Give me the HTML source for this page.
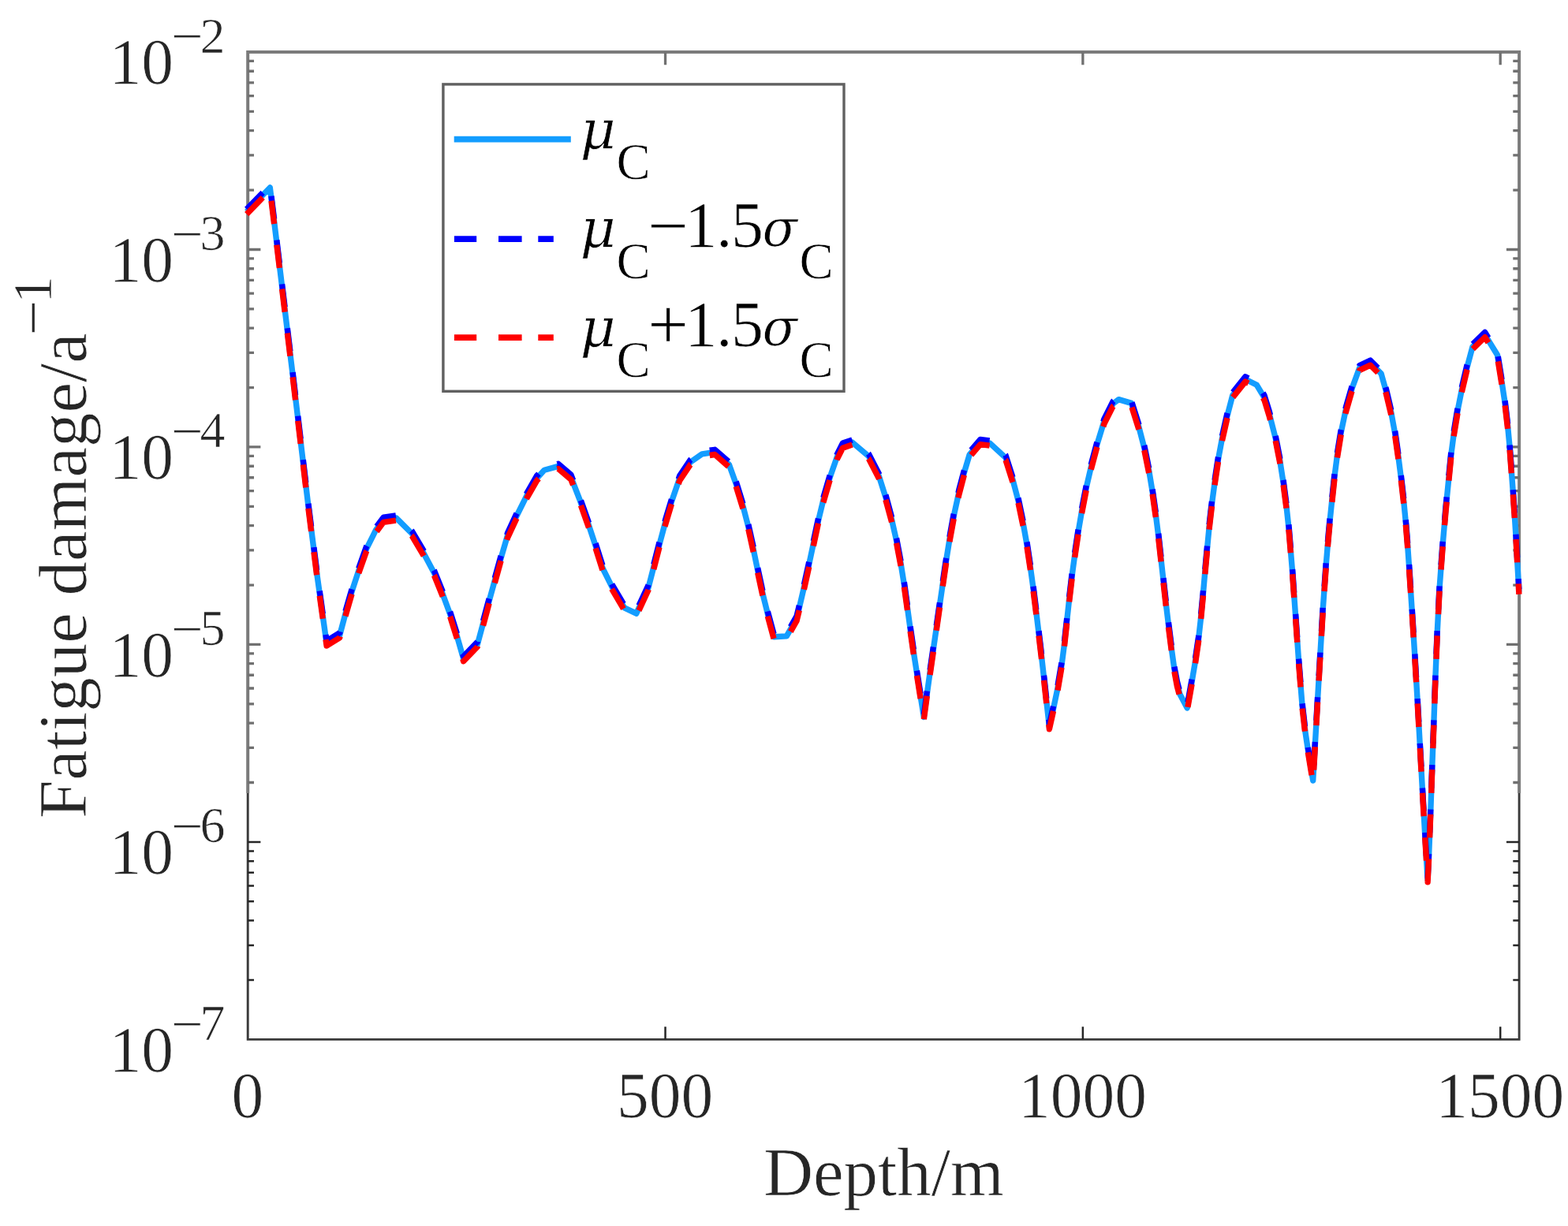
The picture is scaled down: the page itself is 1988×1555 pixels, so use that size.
<!DOCTYPE html>
<html lang="en"><head><meta charset="utf-8">
<title>Fatigue damage versus depth</title>
<style>
html,body{margin:0;padding:0;background:#fff;}
body{width:1988px;height:1555px;overflow:hidden;}
svg{display:block;}
text{font-family:"Liberation Serif","DejaVu Serif",serif;fill:#262626;stroke:#fff;stroke-width:0.7px;}
.gk{font-family:"DejaVu Serif","Liberation Serif",serif;font-style:italic;}
.lg text, text.lg{fill:#000;}
</style></head><body>
<svg width="1988" height="1555" viewBox="0 0 1988 1555" role="img" aria-label="Fatigue damage versus depth">
<rect x="0" y="0" width="1988" height="1555" fill="#fff"/>
<g id="axes" fill="none" stroke-linecap="butt">
<path d="M314.2 1006 V66 H1926.1 V1006" stroke="#7b7b7b" stroke-width="4"/>
<path d="M314.2 1006 V1318.4 H1926.1 V1006" stroke="#3a3a3a" stroke-width="2.9" stroke-linejoin="miter"/>
<path id="ticks-upper" d="M843.53 66 v16.2 M1372.87 66 v16.2 M1902.2 66 v16.2 M314.2 992.52 h7.8 M1926.1 992.52 h-7.8 M314.2 948.41 h7.8 M1926.1 948.41 h-7.8 M314.2 917.12 h7.8 M1926.1 917.12 h-7.8 M314.2 892.84 h7.8 M1926.1 892.84 h-7.8 M314.2 873.01 h7.8 M1926.1 873.01 h-7.8 M314.2 856.24 h7.8 M1926.1 856.24 h-7.8 M314.2 841.71 h7.8 M1926.1 841.71 h-7.8 M314.2 828.9 h7.8 M1926.1 828.9 h-7.8 M314.2 817.44 h16.2 M1926.1 817.44 h-16.2 M314.2 742.04 h7.8 M1926.1 742.04 h-7.8 M314.2 697.93 h7.8 M1926.1 697.93 h-7.8 M314.2 666.64 h7.8 M1926.1 666.64 h-7.8 M314.2 642.36 h7.8 M1926.1 642.36 h-7.8 M314.2 622.53 h7.8 M1926.1 622.53 h-7.8 M314.2 605.76 h7.8 M1926.1 605.76 h-7.8 M314.2 591.23 h7.8 M1926.1 591.23 h-7.8 M314.2 578.42 h7.8 M1926.1 578.42 h-7.8 M314.2 566.96 h16.2 M1926.1 566.96 h-16.2 M314.2 491.56 h7.8 M1926.1 491.56 h-7.8 M314.2 447.45 h7.8 M1926.1 447.45 h-7.8 M314.2 416.16 h7.8 M1926.1 416.16 h-7.8 M314.2 391.88 h7.8 M1926.1 391.88 h-7.8 M314.2 372.05 h7.8 M1926.1 372.05 h-7.8 M314.2 355.28 h7.8 M1926.1 355.28 h-7.8 M314.2 340.75 h7.8 M1926.1 340.75 h-7.8 M314.2 327.94 h7.8 M1926.1 327.94 h-7.8 M314.2 316.48 h16.2 M1926.1 316.48 h-16.2 M314.2 241.08 h7.8 M1926.1 241.08 h-7.8 M314.2 196.97 h7.8 M1926.1 196.97 h-7.8 M314.2 165.68 h7.8 M1926.1 165.68 h-7.8 M314.2 141.4 h7.8 M1926.1 141.4 h-7.8 M314.2 121.57 h7.8 M1926.1 121.57 h-7.8 M314.2 104.8 h7.8 M1926.1 104.8 h-7.8 M314.2 90.27 h7.8 M1926.1 90.27 h-7.8 M314.2 77.46 h7.8 M1926.1 77.46 h-7.8" stroke="#707070" stroke-width="3.3"/>
<path id="ticks-lower" d="M843.53 1318.4 v-16.2 M1372.87 1318.4 v-16.2 M1902.2 1318.4 v-16.2 M314.2 1243 h7.8 M1926.1 1243 h-7.8 M314.2 1198.89 h7.8 M1926.1 1198.89 h-7.8 M314.2 1167.6 h7.8 M1926.1 1167.6 h-7.8 M314.2 1143.32 h7.8 M1926.1 1143.32 h-7.8 M314.2 1123.49 h7.8 M1926.1 1123.49 h-7.8 M314.2 1106.72 h7.8 M1926.1 1106.72 h-7.8 M314.2 1092.19 h7.8 M1926.1 1092.19 h-7.8 M314.2 1079.38 h7.8 M1926.1 1079.38 h-7.8 M314.2 1067.92 h16.2 M1926.1 1067.92 h-16.2" stroke="#262626" stroke-width="2.5"/>
</g>
<g id="curves" fill="none" stroke-linejoin="round" stroke-linecap="butt" stroke-width="7.4">
<path id="mean" stroke="#139dff" d="M312.7 268.5 L342.3 238.0 L347.8 282.5 L371.7 480.0 L390.7 640.0 L402.1 730.0 L414.1 816.0 L430.7 805.8 L438.4 776.8 L446.3 749.5 L454.8 723.7 L464.5 696.3 L476.6 672.2 L486.2 659.3 L502.3 656.9 L522.5 677.0 L536.9 701.2 L550.6 726.9 L561.0 752.7 L571.0 780.0 L579.6 807.4 L587.6 835.6 L605.4 817.1 L619.8 763.5 L635.1 708.1 L643.5 679.1 L654.7 655.0 L667.6 629.2 L680.5 606.7 L690.1 596.2 L707.8 591.4 L723.9 605.1 L735.7 635.7 L746.5 666.2 L755.0 692.0 L764.2 721.0 L776.3 745.1 L791.6 770.9 L806.8 778.1 L822.1 745.1 L828.3 721.0 L836.1 690.4 L843.4 663.0 L851.6 635.7 L861.6 606.7 L875.2 586.3 L890.2 575.8 L906.3 573.4 L924.4 589.2 L933.1 613.4 L942.5 643.9 L948.8 668.1 L955.6 698.7 L960.9 724.4 L967.6 755.5 L973.6 779.6 L981.2 807.7 L997.3 806.9 L1010.1 784.4 L1013.2 771.5 L1018.8 747.4 L1025.3 717.8 L1031.4 689.0 L1037.6 660.0 L1043.8 634.3 L1052.3 605.3 L1061.2 579.6 L1068.5 565.1 L1080.5 561.0 L1101.4 578.8 L1114.3 603.7 L1123.0 631.1 L1130.4 658.4 L1136.6 685.8 L1142.1 714.8 L1146.6 743.0 L1151.0 774.7 L1154.3 798.9 L1158.7 829.5 L1162.7 855.2 L1167.3 884.2 L1171.3 909.4 L1175.4 879.4 L1179.0 853.6 L1183.4 823.0 L1186.9 798.9 L1191.3 768.3 L1195.0 742.5 L1200.0 708.6 L1204.4 681.2 L1209.4 653.8 L1215.7 624.9 L1222.5 599.1 L1229.2 576.6 L1242.9 560.5 L1255.0 562.1 L1275.1 580.6 L1284.1 608.8 L1291.3 636.1 L1297.7 666.7 L1302.3 692.5 L1306.8 722.5 L1310.3 748.3 L1314.3 780.5 L1317.2 804.6 L1321.0 836.8 L1323.7 861.0 L1327.2 893.2 L1330.4 921.7 L1335.7 898.0 L1340.8 873.8 L1346.3 841.6 L1349.2 819.1 L1352.9 785.3 L1355.5 761.2 L1359.3 729.0 L1362.7 703.7 L1367.3 673.2 L1371.7 647.4 L1377.6 616.8 L1383.6 591.1 L1391.4 562.1 L1399.8 534.7 L1411.1 512.2 L1418.3 506.6 L1434.4 511.4 L1443.8 541.2 L1450.9 568.5 L1457.1 599.1 L1461.1 623.3 L1465.7 655.5 L1468.9 681.2 L1472.3 711.8 L1474.9 735.4 L1478.7 769.2 L1481.6 793.4 L1485.7 825.6 L1488.8 848.1 L1492.4 867.4 L1495.8 880.3 L1505.2 897.9 L1510.9 865.8 L1515.0 841.6 L1519.5 811.1 L1522.2 786.9 L1525.4 753.1 L1527.4 729.8 L1530.4 697.0 L1533.4 665.4 L1536.4 639.6 L1540.5 609.0 L1544.4 583.3 L1549.5 555.9 L1555.7 528.5 L1562.8 501.2 L1578.9 481.0 L1593.4 488.3 L1603.0 504.4 L1609.4 525.3 L1617.2 555.9 L1622.6 583.3 L1627.1 612.2 L1630.9 641.2 L1634.2 672.0 L1638.6 725.1 L1642.6 781.4 L1646.6 838.6 L1651.0 894.1 L1654.8 927.4 L1658.4 951.5 L1664.7 990.0 L1667.4 943.5 L1670.6 886.8 L1673.9 829.7 L1677.2 773.4 L1681.2 717.0 L1684.1 682.0 L1686.1 660.5 L1688.9 633.2 L1692.0 604.2 L1695.3 578.4 L1700.0 549.5 L1706.1 520.5 L1714.0 493.1 L1723.7 466.6 L1737.4 460.1 L1751.1 473.8 L1757.4 496.3 L1763.9 523.7 L1768.9 551.1 L1773.0 580.0 L1776.5 607.4 L1779.8 636.4 L1782.4 663.7 L1784.4 688.0 L1786.6 719.4 L1790.3 775.8 L1793.8 832.1 L1797.2 889.3 L1800.3 945.1 L1803.5 1003.0 L1806.7 1058.6 L1810.1 1115.6 L1811.6 1085.1 L1813.8 1028.8 L1815.8 972.4 L1817.9 916.1 L1819.9 859.5 L1822.2 803.1 L1825.1 746.0 L1828.9 694.0 L1833.1 644.8 L1839.8 576.7 L1843.4 548.9 L1848.1 520.6 L1853.3 494.4 L1860.0 466.0 L1867.0 439.8 L1882.7 424.6 L1898.5 450.3 L1904.3 486.0 L1908.1 511.1 L1911.7 541.5 L1914.0 566.2 L1916.5 599.8 L1918.2 622.8 L1920.4 655.3 L1921.9 679.4 L1923.7 711.5 L1925.9 750.6"/>
<path id="lower" stroke="#0000ff" stroke-dasharray="29.4 26.9 29.4 26.9 29.4 26.9 29.4 26.9 29.4 26.9 29.2 26.7 29.2 26.7 29.2 26.7 29.2 26.7 29.2 26.7 29.2 26.7 29.2 26.7 29.2 27.7 30.3 27.7 30.3 27.7 30.3 27.7 29.3 26.9 29.3 26.9 29.3 26.9 29.3 26.9 29.3 27.5 30.1 27.5 30.1 27.5 30.1 27.5 30.1 27.5 29.1 26.6 29.1 26.6 29.1 26.6 29.1 27.1 29.6 27.1 29.6 27.1 29.6 27.1 29.6 27.1 29.5 27 29.5 27 29.5 27 29.5 27 29.5 27 29.5 27.1 29.6 27.1 29.6 27.1 29.6 27.1 29.6 27.1 29.6 27.1 29.6 27.1 29.6 27.1 29.6 27.1 29.6 27.1 29.6 27.2 29.7 27.2 29.7 27.2 29.7 27.2 29.7 27.2 29.7 27.2 29.7 27.2 29.7 27.2 29.7 27.2 29.7 27.2 29.7 27.2 29.4 26.9 29.4 26.9 29.4 27.1 29.6 27.1 29.6 27.1 29.6 27.1 29.6 27.1 29.6 27.1 29.6 27.1 29.6 27.1 29.6 27.1 29.6 27.1 29.6 27.1 29.6 27.1 29.6 27.1 29.5 27 29.5 27 29.5 27.2 29.7 27.2 29.7 27.2 29.7 27.2 29.7 27.2 29.7 27.2 29.7 27.2 29.7 27.2 29.7 27.2 29.7 27.2 29.7 27.2 29.7 27.2 29.7 27.2 29.7 27.2 29.3 26.8 29.3 26.8 29.3 27.1 29.7 27.1 29.7 27.1 29.7 27.1 29.7 27.1 29.7 27.1 29.7 27.1 29.7 27.1 29.7 27.1 29.7 27.1 29.7 27.1 29.7 27.1 29.7 27.1 29.7 27.1 29.7 27.1 29.7 27.1 29.7 27.1 29.7 27.1 29.7 27.1 29.5 27 29.5 27 29.5 27 29.5 27.1 29.6 27.1 29.6 27.1 29.6 27.1 29.6 27.1 29.6 27.1 29.6 27.1 29.6 27.1 29.6 27.1 29.6 27.1 29.6 27.1 29.6 27.1 29.6 27.1 29.6 27.1 29.6 27.1 29.6 27.1 29.5 27 29.5 50" d="M312.7 265.4 L342.3 234.9 L347.8 279.4 L371.7 476.9 L390.7 636.9 L402.1 726.9 L414.1 812.9 L430.7 802.7 L438.4 773.7 L446.3 746.4 L454.8 720.6 L464.5 693.2 L476.6 669.1 L486.2 656.2 L502.3 653.8 L522.5 673.9 L536.9 698.1 L550.6 723.8 L561.0 749.6 L571.0 776.9 L579.6 804.3 L587.6 832.5 L605.4 814.0 L619.8 760.4 L635.1 705.0 L643.5 676.0 L654.7 651.9 L667.6 626.1 L680.5 603.6 L690.1 593.1 L707.8 588.3 L723.9 602.0 L735.7 632.6 L746.5 663.1 L755.0 688.9 L764.2 717.9 L776.3 742.0 L791.6 767.8 L806.8 775.0 L822.1 742.0 L828.3 717.9 L836.1 687.3 L843.4 659.9 L851.6 632.6 L861.6 603.6 L875.2 583.2 L890.2 572.7 L906.3 570.3 L924.4 586.1 L933.1 610.3 L942.5 640.8 L948.8 665.0 L955.6 695.6 L960.9 721.3 L967.6 752.4 L973.6 776.5 L981.2 804.6 L997.3 803.8 L1010.1 781.3 L1013.2 768.4 L1018.8 744.3 L1025.3 714.7 L1031.4 685.9 L1037.6 656.9 L1043.8 631.2 L1052.3 602.2 L1061.2 576.5 L1068.5 562.0 L1080.5 557.9 L1101.4 575.7 L1114.3 600.6 L1123.0 628.0 L1130.4 655.3 L1136.6 682.7 L1142.1 711.7 L1146.6 739.9 L1151.0 771.6 L1154.3 795.8 L1158.7 826.4 L1162.7 852.1 L1167.3 881.1 L1171.3 906.3 L1175.4 876.3 L1179.0 850.5 L1183.4 819.9 L1186.9 795.8 L1191.3 765.2 L1195.0 739.4 L1200.0 705.5 L1204.4 678.1 L1209.4 650.7 L1215.7 621.8 L1222.5 596.0 L1229.2 573.5 L1242.9 557.4 L1255.0 559.0 L1275.1 577.5 L1284.1 605.7 L1291.3 633.0 L1297.7 663.6 L1302.3 689.4 L1306.8 719.4 L1310.3 745.2 L1314.3 777.4 L1317.2 801.5 L1321.0 833.7 L1323.7 857.9 L1327.2 890.1 L1330.4 918.6 L1335.7 894.9 L1340.8 870.7 L1346.3 838.5 L1349.2 816.0 L1352.9 782.2 L1355.5 758.1 L1359.3 725.9 L1362.7 700.6 L1367.3 670.1 L1371.7 644.3 L1377.6 613.7 L1383.6 588.0 L1391.4 559.0 L1399.8 531.6 L1411.1 509.1 L1418.3 503.5 L1434.4 508.3 L1443.8 538.1 L1450.9 565.4 L1457.1 596.0 L1461.1 620.2 L1465.7 652.4 L1468.9 678.1 L1472.3 708.7 L1474.9 732.3 L1478.7 766.1 L1481.6 790.3 L1485.7 822.5 L1488.8 845.0 L1492.4 864.3 L1495.8 877.2 L1505.2 894.8 L1510.9 862.7 L1515.0 838.5 L1519.5 808.0 L1522.2 783.8 L1525.4 750.0 L1527.4 726.7 L1530.4 693.9 L1533.4 662.3 L1536.4 636.5 L1540.5 605.9 L1544.4 580.2 L1549.5 552.8 L1555.7 525.4 L1562.8 498.1 L1578.9 477.9 L1593.4 485.2 L1603.0 501.3 L1609.4 522.2 L1617.2 552.8 L1622.6 580.2 L1627.1 609.1 L1630.9 638.1 L1634.2 668.9 L1638.6 722.0 L1642.6 778.3 L1646.6 835.5 L1651.0 891.0 L1654.8 924.3 L1658.4 948.4 L1664.7 986.9 L1667.4 940.4 L1670.6 883.7 L1673.9 826.6 L1677.2 770.3 L1681.2 713.9 L1684.1 678.9 L1686.1 657.4 L1688.9 630.1 L1692.0 601.1 L1695.3 575.3 L1700.0 546.4 L1706.1 517.4 L1714.0 490.0 L1723.7 463.5 L1737.4 457.0 L1751.1 470.7 L1757.4 493.2 L1763.9 520.6 L1768.9 548.0 L1773.0 576.9 L1776.5 604.3 L1779.8 633.3 L1782.4 660.6 L1784.4 684.9 L1786.6 716.3 L1790.3 772.7 L1793.8 829.0 L1797.2 886.2 L1800.3 942.0 L1803.5 999.9 L1806.7 1055.5 L1810.1 1112.5 L1811.6 1082.0 L1813.8 1025.7 L1815.8 969.3 L1817.9 913.0 L1819.9 856.4 L1822.2 800.0 L1825.1 742.9 L1828.9 690.9 L1833.1 641.7 L1839.8 573.6 L1843.4 545.8 L1848.1 517.5 L1853.3 491.3 L1860.0 462.9 L1867.0 436.7 L1882.7 421.5 L1898.5 447.2 L1904.3 482.9 L1908.1 508.0 L1911.7 538.4 L1914.0 563.1 L1916.5 596.7 L1918.2 619.7 L1920.4 652.2 L1921.9 676.3 L1923.7 708.4 L1925.9 747.5"/>
<path id="upper" stroke="#ff0000" stroke-dasharray="29.4 26.9 29.4 26.9 29.4 26.9 29.4 26.9 29.4 26.9 29.2 26.7 29.2 26.7 29.2 26.7 29.2 26.7 29.2 26.7 29.2 26.7 29.2 26.7 29.2 27.7 30.3 27.7 30.3 27.7 30.3 27.7 29.3 26.9 29.3 26.9 29.3 26.9 29.3 26.9 29.3 27.5 30.1 27.5 30.1 27.5 30.1 27.5 30.1 27.5 29.1 26.6 29.1 26.6 29.1 26.6 29.1 27.1 29.6 27.1 29.6 27.1 29.6 27.1 29.6 27.1 29.5 27 29.5 27 29.5 27 29.5 27 29.5 27 29.5 27.1 29.6 27.1 29.6 27.1 29.6 27.1 29.6 27.1 29.6 27.1 29.6 27.1 29.6 27.1 29.6 27.1 29.6 27.1 29.6 27.2 29.7 27.2 29.7 27.2 29.7 27.2 29.7 27.2 29.7 27.2 29.7 27.2 29.7 27.2 29.7 27.2 29.7 27.2 29.7 27.2 29.4 26.9 29.4 26.9 29.4 27.1 29.6 27.1 29.6 27.1 29.6 27.1 29.6 27.1 29.6 27.1 29.6 27.1 29.6 27.1 29.6 27.1 29.6 27.1 29.6 27.1 29.6 27.1 29.6 27.1 29.5 27 29.5 27 29.5 27.2 29.7 27.2 29.7 27.2 29.7 27.2 29.7 27.2 29.7 27.2 29.7 27.2 29.7 27.2 29.7 27.2 29.7 27.2 29.7 27.2 29.7 27.2 29.7 27.2 29.7 27.2 29.3 26.8 29.3 26.8 29.3 27.1 29.7 27.1 29.7 27.1 29.7 27.1 29.7 27.1 29.7 27.1 29.7 27.1 29.7 27.1 29.7 27.1 29.7 27.1 29.7 27.1 29.7 27.1 29.7 27.1 29.7 27.1 29.7 27.1 29.7 27.1 29.7 27.1 29.7 27.1 29.7 27.1 29.5 27 29.5 27 29.5 27 29.5 27.1 29.6 27.1 29.6 27.1 29.6 27.1 29.6 27.1 29.6 27.1 29.6 27.1 29.6 27.1 29.6 27.1 29.6 27.1 29.6 27.1 29.6 27.1 29.6 27.1 29.6 27.1 29.6 27.1 29.6 27.1 29.5 27 29.5 50" d="M312.7 271.6 L342.3 241.1 L347.8 285.6 L371.7 483.1 L390.7 643.1 L402.1 733.1 L414.1 819.1 L430.7 808.9 L438.4 779.9 L446.3 752.6 L454.8 726.8 L464.5 699.4 L476.6 675.3 L486.2 662.4 L502.3 660.0 L522.5 680.1 L536.9 704.3 L550.6 730.0 L561.0 755.8 L571.0 783.1 L579.6 810.5 L587.6 838.7 L605.4 820.2 L619.8 766.6 L635.1 711.2 L643.5 682.2 L654.7 658.1 L667.6 632.3 L680.5 609.8 L690.1 599.3 L707.8 594.5 L723.9 608.2 L735.7 638.8 L746.5 669.3 L755.0 695.1 L764.2 724.1 L776.3 748.2 L791.6 774.0 L806.8 781.2 L822.1 748.2 L828.3 724.1 L836.1 693.5 L843.4 666.1 L851.6 638.8 L861.6 609.8 L875.2 589.4 L890.2 578.9 L906.3 576.5 L924.4 592.3 L933.1 616.5 L942.5 647.0 L948.8 671.2 L955.6 701.8 L960.9 727.5 L967.6 758.6 L973.6 782.7 L981.2 810.8 L997.3 810.0 L1010.1 787.5 L1013.2 774.6 L1018.8 750.5 L1025.3 720.9 L1031.4 692.1 L1037.6 663.1 L1043.8 637.4 L1052.3 608.4 L1061.2 582.7 L1068.5 568.2 L1080.5 564.1 L1101.4 581.9 L1114.3 606.8 L1123.0 634.2 L1130.4 661.5 L1136.6 688.9 L1142.1 717.9 L1146.6 746.1 L1151.0 777.8 L1154.3 802.0 L1158.7 832.6 L1162.7 858.3 L1167.3 887.3 L1171.3 912.5 L1175.4 882.5 L1179.0 856.7 L1183.4 826.1 L1186.9 802.0 L1191.3 771.4 L1195.0 745.6 L1200.0 711.7 L1204.4 684.3 L1209.4 656.9 L1215.7 628.0 L1222.5 602.2 L1229.2 579.7 L1242.9 563.6 L1255.0 565.2 L1275.1 583.7 L1284.1 611.9 L1291.3 639.2 L1297.7 669.8 L1302.3 695.6 L1306.8 725.6 L1310.3 751.4 L1314.3 783.6 L1317.2 807.7 L1321.0 839.9 L1323.7 864.1 L1327.2 896.3 L1330.4 924.8 L1335.7 901.1 L1340.8 876.9 L1346.3 844.7 L1349.2 822.2 L1352.9 788.4 L1355.5 764.3 L1359.3 732.1 L1362.7 706.8 L1367.3 676.3 L1371.7 650.5 L1377.6 619.9 L1383.6 594.2 L1391.4 565.2 L1399.8 537.8 L1411.1 515.3 L1418.3 509.7 L1434.4 514.5 L1443.8 544.3 L1450.9 571.6 L1457.1 602.2 L1461.1 626.4 L1465.7 658.6 L1468.9 684.3 L1472.3 714.9 L1474.9 738.5 L1478.7 772.3 L1481.6 796.5 L1485.7 828.7 L1488.8 851.2 L1492.4 870.5 L1495.8 883.4 L1505.2 901.0 L1510.9 868.9 L1515.0 844.7 L1519.5 814.2 L1522.2 790.0 L1525.4 756.2 L1527.4 732.9 L1530.4 700.1 L1533.4 668.5 L1536.4 642.7 L1540.5 612.1 L1544.4 586.4 L1549.5 559.0 L1555.7 531.6 L1562.8 504.3 L1578.9 484.1 L1593.4 491.4 L1603.0 507.5 L1609.4 528.4 L1617.2 559.0 L1622.6 586.4 L1627.1 615.3 L1630.9 644.3 L1634.2 675.1 L1638.6 728.2 L1642.6 784.5 L1646.6 841.7 L1651.0 897.2 L1654.8 930.5 L1658.4 954.6 L1664.7 993.1 L1667.4 946.6 L1670.6 889.9 L1673.9 832.8 L1677.2 776.5 L1681.2 720.1 L1684.1 685.1 L1686.1 663.6 L1688.9 636.3 L1692.0 607.3 L1695.3 581.5 L1700.0 552.6 L1706.1 523.6 L1714.0 496.2 L1723.7 469.7 L1737.4 463.2 L1751.1 476.9 L1757.4 499.4 L1763.9 526.8 L1768.9 554.2 L1773.0 583.1 L1776.5 610.5 L1779.8 639.5 L1782.4 666.8 L1784.4 691.1 L1786.6 722.5 L1790.3 778.9 L1793.8 835.2 L1797.2 892.4 L1800.3 948.2 L1803.5 1006.1 L1806.7 1061.7 L1810.1 1118.7 L1811.6 1088.2 L1813.8 1031.9 L1815.8 975.5 L1817.9 919.2 L1819.9 862.6 L1822.2 806.2 L1825.1 749.1 L1828.9 697.1 L1833.1 647.9 L1839.8 579.8 L1843.4 552.0 L1848.1 523.7 L1853.3 497.5 L1860.0 469.1 L1867.0 442.9 L1882.7 427.7 L1898.5 453.4 L1904.3 489.1 L1908.1 514.2 L1911.7 544.6 L1914.0 569.3 L1916.5 602.9 L1918.2 625.9 L1920.4 658.4 L1921.9 682.5 L1923.7 714.6 L1925.9 753.7"/>
</g>
<g id="yticks">
<text><tspan x="138.6" y="106.1" font-size="81.5">10</tspan><tspan x="216.9" y="70.2" font-size="72">−</tspan><tspan x="253.5" y="66.5" font-size="64">2</tspan></text>
<text><tspan x="138.6" y="356.58" font-size="81.5">10</tspan><tspan x="216.9" y="320.68" font-size="72">−</tspan><tspan x="253.5" y="316.98" font-size="64">3</tspan></text>
<text><tspan x="138.6" y="607.06" font-size="81.5">10</tspan><tspan x="216.9" y="571.16" font-size="72">−</tspan><tspan x="253.5" y="567.46" font-size="64">4</tspan></text>
<text><tspan x="138.6" y="857.54" font-size="81.5">10</tspan><tspan x="216.9" y="821.64" font-size="72">−</tspan><tspan x="253.5" y="817.94" font-size="64">5</tspan></text>
<text><tspan x="138.6" y="1108.02" font-size="81.5">10</tspan><tspan x="216.9" y="1072.12" font-size="72">−</tspan><tspan x="253.5" y="1068.42" font-size="64">6</tspan></text>
<text><tspan x="138.6" y="1358.5" font-size="81.5">10</tspan><tspan x="216.9" y="1322.6" font-size="72">−</tspan><tspan x="253.5" y="1318.9" font-size="64">7</tspan></text>
</g>
<g id="xticks" font-size="81.5" text-anchor="middle">
<text x="313.8" y="1416.9">0</text>
<text x="843.13" y="1416.9">500</text>
<text x="1372.47" y="1416.9">1000</text>
<text x="1901.8" y="1416.9">1500</text>
</g>
<text id="xlabel" x="1120.4" y="1516" font-size="87" text-anchor="middle">Depth/m</text>
<text id="ylabel" transform="translate(108.7 1038.1) rotate(-90)"><tspan x="0" y="0" font-size="87">Fatigue damage/a</tspan><tspan x="612.5" y="-39.7" font-size="80">−</tspan><tspan x="653.4" y="-43.6" font-size="69.6">1</tspan></text>
<g id="legend" class="lg">
<rect x="561.9" y="106.9" width="508.1" height="389.4" fill="#fff" stroke="#606060" stroke-width="3.4"/>
<path d="M575.7 176.6 H723.8" stroke="#139dff" stroke-width="7.8" fill="none"/>
<path d="M575.9 303.2 H604.2 M632 303.2 H661.6 M682.3 303.2 H701.8" stroke="#0000ff" stroke-width="7.8" fill="none"/>
<path d="M575.9 428.1 H604.2 M632 428.1 H661.6 M682.3 428.1 H701.8" stroke="#ff0000" stroke-width="7.8" fill="none"/>
<text><tspan class="gk" x="735.5" y="188.5" font-size="70">μ</tspan><tspan x="781.6" y="226.8" font-size="64.7">C</tspan></text>
<text><tspan class="gk" x="735.5" y="314.3" font-size="70">μ</tspan><tspan x="781.6" y="352.6" font-size="64.7">C</tspan><tspan x="821.3" y="316.6" font-size="91.6">−</tspan><tspan x="868.2 908 926.9" y="313.3" font-size="82">1.5</tspan><tspan class="gk" x="966.4" y="312.4" font-size="65">σ</tspan><tspan x="1013.5" y="352.6" font-size="64.7">C</tspan></text>
<text><tspan class="gk" x="735.5" y="440.1" font-size="70">μ</tspan><tspan x="781.6" y="478.4" font-size="64.7">C</tspan><tspan x="821.3" y="441.5" font-size="91.6">+</tspan><tspan x="868.2 908 926.9" y="439.1" font-size="82">1.5</tspan><tspan class="gk" x="966.4" y="438.2" font-size="65">σ</tspan><tspan x="1013.5" y="478.4" font-size="64.7">C</tspan></text>
</g>
</svg>
</body></html>
